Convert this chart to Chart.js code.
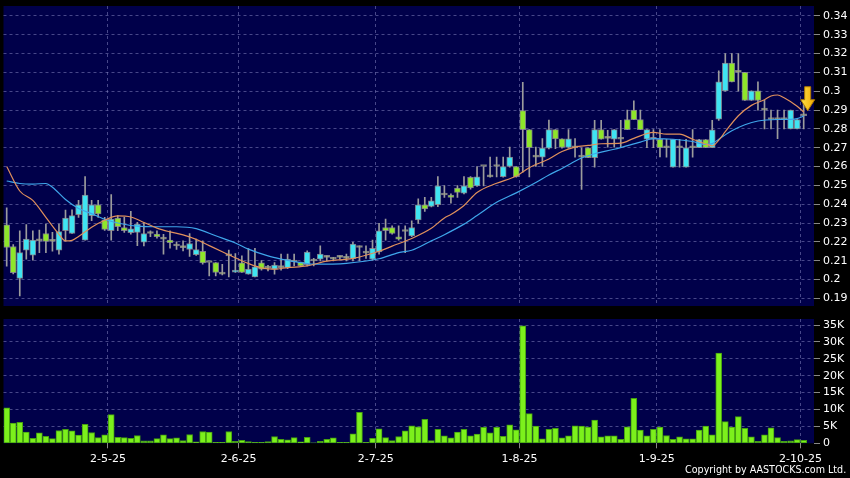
<!DOCTYPE html>
<html>
<head>
<meta charset="utf-8">
<script src="https://cdn.jsdelivr.net/npm/chart.js@4/dist/chart.umd.min.js"></script>
<style>
  html, body { margin: 0; padding: 0; background: #000; }
  #wrap { position: relative; width: 850px; height: 478px; overflow: hidden; background: #000; }
  #price { position: absolute; left: 0; top: 0; }
  #vol { position: absolute; left: 0; top: 310px; }
  #copy { position: absolute; right: 4px; top: 463px; color: #fff; font: 11px "DejaVu Sans", sans-serif; white-space: nowrap; transform: scaleX(0.87); transform-origin: right top; }
</style>
</head>
<body>
<div id="wrap">
  <canvas id="price" width="850" height="310"></canvas>
  <canvas id="vol" width="850" height="168"></canvas>
  <div id="copy">Copyright by AASTOCKS.com Ltd.</div>
</div>
<script>
// daily bars, oldest first (bar 1 .. 123)
const open = [
  0.229, 0.2175, 0.2006, 0.2156, 0.2129, 0.2205, 0.2244, 0.2202, 0.2156, 0.2259,
  0.2244, 0.2344, 0.2209, 0.2339, 0.2397, 0.2317, 0.2259, 0.2326, 0.2276, 0.2248,
  0.225, 0.2198, 0.2244, 0.2241, 0.2214, 0.2209, 0.2178, 0.2169, 0.2159, 0.2132,
  0.215, 0.209, 0.209, 0.2028, 0.2125, 0.2039, 0.2088, 0.2028, 0.2014, 0.2088,
  0.206, 0.2054, 0.2063, 0.2063, 0.2093, 0.2093, 0.2079, 0.2098, 0.2108, 0.2117,
  0.2108, 0.2117, 0.2112, 0.211, 0.217, 0.214, 0.2108, 0.2147, 0.2276, 0.2276,
  0.2227, 0.2255, 0.2232, 0.2316, 0.2397, 0.2388, 0.2398, 0.2449, 0.2449, 0.2485,
  0.2458, 0.2543, 0.2497, 0.26, 0.2545, 0.26, 0.2546, 0.26, 0.26, 0.2897,
  0.2796, 0.265, 0.265, 0.2698, 0.2796, 0.2747, 0.2701, 0.27, 0.265, 0.27,
  0.2647, 0.2796, 0.275, 0.2745, 0.2745, 0.2849, 0.29, 0.2849, 0.2745, 0.2745,
  0.2745, 0.27, 0.2596, 0.27, 0.2596, 0.27, 0.27, 0.2743, 0.27, 0.2852,
  0.3002, 0.315, 0.31, 0.31, 0.2951, 0.3002, 0.29, 0.285, 0.285, 0.285,
  0.28, 0.28, 0.287
];
const high = [
  0.238, 0.2185, 0.2259, 0.2291, 0.2259, 0.2262, 0.2294, 0.225, 0.2294, 0.2369,
  0.237, 0.242, 0.2547, 0.242, 0.242, 0.233, 0.2451, 0.2339, 0.233, 0.2362,
  0.2303, 0.2302, 0.2259, 0.2259, 0.224, 0.2258, 0.22, 0.2205, 0.2244, 0.2214,
  0.2205, 0.209, 0.209, 0.208, 0.2156, 0.2137, 0.2125, 0.2164, 0.2166, 0.21,
  0.2075, 0.209, 0.2135, 0.2135, 0.2135, 0.2093, 0.2152, 0.2112, 0.2179, 0.2125,
  0.2117, 0.2126, 0.2135, 0.2197, 0.2179, 0.2179, 0.2209, 0.2298, 0.2321, 0.2285,
  0.2285, 0.2285, 0.2312, 0.2428, 0.2436, 0.2436, 0.2547, 0.2499, 0.2455, 0.2499,
  0.2547, 0.2547, 0.26, 0.26, 0.265, 0.265, 0.265, 0.2703, 0.26, 0.3048,
  0.2796, 0.2703, 0.2748, 0.2847, 0.2796, 0.2747, 0.2796, 0.2748, 0.27, 0.27,
  0.2845, 0.2845, 0.2792, 0.2796, 0.2845, 0.29, 0.2949, 0.29, 0.2796, 0.2796,
  0.2796, 0.2745, 0.2745, 0.2745, 0.2745, 0.2796, 0.2745, 0.2743, 0.2845, 0.3109,
  0.32, 0.32, 0.32, 0.31, 0.3002, 0.305, 0.2952, 0.29, 0.29, 0.29,
  0.29, 0.285, 0.2952
];
const low = [
  0.207, 0.203, 0.1912, 0.2108, 0.2102, 0.2143, 0.2143, 0.215, 0.2134, 0.2205,
  0.2244, 0.233, 0.2209, 0.2312, 0.233, 0.226, 0.2209, 0.2259, 0.225, 0.2241,
  0.2179, 0.2178, 0.2227, 0.222, 0.2134, 0.2166, 0.2159, 0.2152, 0.2123, 0.2128,
  0.2081, 0.2019, 0.2019, 0.2024, 0.2014, 0.2037, 0.2037, 0.2028, 0.2013, 0.205,
  0.2045, 0.2028, 0.205, 0.2058, 0.2072, 0.2072, 0.2072, 0.2072, 0.2098, 0.2098,
  0.2098, 0.2108, 0.2098, 0.2098, 0.2098, 0.2112, 0.2103, 0.2135, 0.2209, 0.2241,
  0.2209, 0.2143, 0.2227, 0.2298, 0.2362, 0.2385, 0.2387, 0.2436, 0.2406, 0.2436,
  0.2455, 0.248, 0.2495, 0.2497, 0.2543, 0.2545, 0.2543, 0.2597, 0.2543, 0.257,
  0.2545, 0.26, 0.26, 0.2694, 0.2695, 0.2698, 0.2698, 0.265, 0.2478, 0.2647,
  0.2596, 0.2745, 0.2703, 0.2703, 0.2703, 0.2796, 0.2849, 0.2796, 0.27, 0.27,
  0.2651, 0.265, 0.2596, 0.2596, 0.2596, 0.265, 0.27, 0.27, 0.27, 0.2845,
  0.3, 0.3049, 0.3, 0.2951, 0.2951, 0.29, 0.28, 0.28, 0.2748, 0.28,
  0.28, 0.28, 0.28
];
const close = [
  0.217, 0.2036, 0.2143, 0.2214, 0.2209, 0.2205, 0.2202, 0.2202, 0.2255, 0.2326,
  0.2339, 0.2396, 0.2449, 0.2397, 0.2348, 0.2266, 0.2321, 0.228, 0.2259, 0.2269,
  0.2294, 0.2244, 0.2244, 0.2227, 0.2214, 0.2195, 0.2178, 0.2169, 0.2191, 0.2159,
  0.2088, 0.209, 0.2037, 0.2028, 0.2125, 0.205, 0.2037, 0.2055, 0.2067, 0.2055,
  0.206, 0.2076, 0.2063, 0.2108, 0.2093, 0.2072, 0.2145, 0.2098, 0.2135, 0.2117,
  0.2108, 0.2117, 0.2112, 0.2188, 0.217, 0.214, 0.2166, 0.2259, 0.2259, 0.2244,
  0.2214, 0.2255, 0.2276, 0.2397, 0.2375, 0.2418, 0.2497, 0.2449, 0.2436, 0.2463,
  0.2497, 0.2486, 0.2545, 0.26, 0.2545, 0.26, 0.26, 0.265, 0.2546, 0.2796,
  0.27, 0.265, 0.2698, 0.2796, 0.2747, 0.2701, 0.2747, 0.27, 0.265, 0.2647,
  0.2796, 0.2745, 0.275, 0.2796, 0.2745, 0.2796, 0.2849, 0.2796, 0.2796, 0.2745,
  0.27, 0.27, 0.2745, 0.27, 0.27, 0.27, 0.2743, 0.27, 0.2795, 0.305,
  0.315, 0.3049, 0.31, 0.2951, 0.3002, 0.2951, 0.29, 0.285, 0.285, 0.285,
  0.29, 0.2849, 0.287
];
// volume in shares
const volume = [
  10500, 6000, 6200, 3300, 1500, 3100, 2100, 1400, 3800, 4100,
  3700, 2400, 5600, 3200, 1700, 2500, 8500, 1800, 1700, 1500,
  2300, 700, 700, 1400, 2500, 1400, 1600, 800, 2600, 400,
  3500, 3300, 300, 300, 3500, 600, 900, 500, 300, 300,
  500, 2000, 1200, 1000, 1700, 400, 1800, 100, 600, 1200,
  1600, 300, 300, 2800, 9200, 300, 1500, 4300, 1700, 800,
  2000, 3700, 5200, 4900, 7100, 800, 4100, 2200, 1600, 3300,
  4100, 2200, 2700, 4700, 3100, 4700, 2100, 5500, 4000, 34800,
  8800, 5100, 1300, 4100, 4400, 1600, 2200, 5200, 5100, 4800,
  6900, 1900, 2200, 2200, 1200, 4900, 13300, 3900, 2200, 4100,
  4800, 2300, 1200, 1900, 1300, 1300, 3900, 5100, 2500, 26700,
  6400, 4800, 7900, 4400, 1900, 600, 2500, 4600, 1700, 600,
  700, 1100, 900
];
// moving averages: [bar, value]
const maFast = [
  [1, 0.2600], [3, 0.2470], [5, 0.2420], [7, 0.2330], [9, 0.2240], [10, 0.2205],
  [11, 0.2208], [12, 0.2228], [14, 0.2278], [16, 0.2315], [18, 0.2338], [20, 0.2332],
  [22, 0.2303], [24, 0.2273], [26, 0.2253], [28, 0.2237], [30, 0.2213], [32, 0.2180],
  [34, 0.2147], [36, 0.2115], [38, 0.2085], [40, 0.2062], [42, 0.2055], [44, 0.2063],
  [47, 0.2072], [50, 0.2097], [54, 0.2112], [58, 0.2150], [60, 0.2177], [63, 0.2218],
  [66, 0.2272], [68, 0.2327], [69, 0.2345], [71, 0.2393], [73, 0.2462], [76, 0.2511],
  [79, 0.2550], [81, 0.2594], [84, 0.2640], [86, 0.2680], [88, 0.2703], [90, 0.2712],
  [92, 0.2721], [95, 0.2724], [97, 0.2750], [100, 0.2782], [102, 0.2772], [104, 0.2772],
  [106, 0.2745], [108, 0.2720], [109, 0.2710], [110, 0.2740], [111, 0.2785], [113, 0.2870],
  [115, 0.2925], [117, 0.2955], [118, 0.2975], [119, 0.2980], [120, 0.2965], [122, 0.2920],
  [123, 0.2890]
];
const maSlow = [
  [1, 0.2523], [3, 0.2510], [5, 0.2507], [7, 0.2510], [8, 0.2490], [10, 0.2425],
  [12, 0.2377], [14, 0.2350], [16, 0.2320], [18, 0.2300], [21, 0.2283], [24, 0.2280],
  [27, 0.2280], [30, 0.2270], [33, 0.2232], [36, 0.2194], [38, 0.2161], [41, 0.2125],
  [43, 0.2108], [45, 0.2095], [48, 0.2081], [53, 0.2086], [58, 0.2110], [61, 0.2143],
  [63, 0.2155], [66, 0.2205], [68, 0.2238], [71, 0.2294], [73, 0.2340], [76, 0.2410],
  [79, 0.2460], [82, 0.2515], [84, 0.2555], [86, 0.2590], [89, 0.2645], [91, 0.2668],
  [94, 0.2692], [98, 0.2730], [100, 0.2748], [103, 0.2745], [106, 0.2733], [108, 0.2718],
  [109, 0.2722], [110, 0.2745], [112, 0.2790], [114, 0.2822], [116, 0.2842], [119, 0.2850],
  [121, 0.2851], [122, 0.2855], [123, 0.2868]
];
const priceTicks = [0.19, 0.20, 0.21, 0.22, 0.23, 0.24, 0.25, 0.26, 0.27, 0.28, 0.29, 0.30, 0.31, 0.32, 0.33, 0.34];
const volTicks = [0, 5000, 10000, 15000, 20000, 25000, 30000, 35000];
const tickAt = [16.5, 36.5, 57.5, 79.5, 100.5, 122.5];
const tickLabels = ['2-5-25', '2-6-25', '2-7-25', '1-8-25', '1-9-25', '2-10-25'];

Chart.defaults.font.family = '"DejaVu Sans", sans-serif';
Chart.defaults.font.size = 11;
Chart.defaults.color = '#fff';

const navy = '#00004a';
const gridCol = 'rgba(130,130,190,0.55)';
const upCol = '#3fe4f2';
const downCol = '#8ee62a';
const flatCol = '#a8ae74';

const panelBg = {
  id: 'panelBg',
  beforeDraw(chart) {
    const { ctx, chartArea: a } = chart;
    ctx.save();
    ctx.fillStyle = navy;
    ctx.fillRect(a.left, a.top, a.right - a.left, a.bottom - a.top);
    ctx.restore();
  }
};

// yellow marker over the latest bar
const arrowMark = {
  id: 'arrowMark',
  afterDatasetsDraw(chart) {
    const { ctx, scales: { x, y } } = chart;
    const n = close.length;
    const cx = x.getPixelForValue(n) + 4;
    const tip = y.getPixelForValue(close[n - 1]) - 5;
    ctx.save();
    const g = ctx.createLinearGradient(cx - 7, 0, cx + 7, 0);
    g.addColorStop(0, '#ffe24a');
    g.addColorStop(1, '#f0a800');
    ctx.fillStyle = g;
    ctx.strokeStyle = '#b07a00';
    ctx.lineWidth = 1;
    ctx.beginPath();
    ctx.moveTo(cx - 3, tip - 24);
    ctx.lineTo(cx + 3, tip - 24);
    ctx.lineTo(cx + 3, tip - 11);
    ctx.lineTo(cx + 7, tip - 11);
    ctx.lineTo(cx, tip);
    ctx.lineTo(cx - 7, tip - 11);
    ctx.lineTo(cx - 3, tip - 11);
    ctx.closePath();
    ctx.fill();
    ctx.stroke();
    ctx.restore();
  }
};

const xRange = { min: 0.51, max: 124.58 };

function xAxis(showLabels) {
  return {
    type: 'linear',
    min: xRange.min,
    max: xRange.max,
    offset: false,
    afterBuildTicks: s => { s.ticks = tickAt.map(v => ({ value: v })); },
    afterFit: s => { s.height = showLabels ? 34.7 : 0; s.paddingLeft = 0; s.paddingRight = 0; },
    grid: { offset: false, color: gridCol, drawTicks: showLabels, tickLength: 5, tickColor: '#888' },
    border: { display: false, dash: [3, 3] },
    ticks: {
      display: showLabels,
      padding: 4,
      maxRotation: 0,
      autoSkip: false,
      callback: v => tickLabels[tickAt.indexOf(v)] || ''
    }
  };
}

function rightAxis(extra) {
  return Object.assign({
    position: 'right',
    afterFit: s => { s.width = 36; s.paddingTop = 0; s.paddingBottom = 0; },
    border: { display: false, dash: [3, 3] }
  }, extra);
}

new Chart(document.getElementById('price'), {
  type: 'bar',
  data: {
    datasets: [
      {
        type: 'line', label: 'MA fast', order: 0,
        data: maFast.map(([x, y]) => ({ x, y })),
        borderColor: '#e0905c', borderWidth: 1.2, pointRadius: 0,
        cubicInterpolationMode: 'monotone'
      },
      {
        type: 'line', label: 'MA slow', order: 0,
        data: maSlow.map(([x, y]) => ({ x, y })),
        borderColor: '#3fa6ea', borderWidth: 1.2, pointRadius: 0,
        cubicInterpolationMode: 'monotone'
      },
      {
        label: 'body', order: 1, grouped: false,
        data: open.map((o, i) => ({ x: i + 1, y: [Math.min(o, close[i]), Math.max(o, close[i])] })),
        backgroundColor: c => {
          const i = c.dataIndex;
          if (close[i] > open[i]) return upCol;
          if (close[i] < open[i]) return downCol;
          return flatCol;
        },
        borderColor: 'rgba(150,150,150,0.8)', borderWidth: 1, borderSkipped: false,
        barThickness: 6, minBarLength: 2
      },
      {
        label: 'wick', order: 2, grouped: false,
        data: low.map((l, i) => ({ x: i + 1, y: [l, high[i]] })),
        backgroundColor: '#9c9c9c', barThickness: 1
      }
    ]
  },
  options: {
    responsive: false,
    animation: false,
    layout: { padding: { left: 3.5, top: 6, bottom: 4, right: 0 } },
    plugins: { legend: { display: false }, tooltip: { enabled: false } },
    scales: {
      x: xAxis(false),
      y: rightAxis({
        min: 0.1859,
        max: 0.3453,
        afterBuildTicks: s => { s.ticks = priceTicks.map(v => ({ value: v })); },
        grid: { color: gridCol, tickLength: 6, tickColor: '#888' },
        ticks: { padding: 3, callback: v => String(+v.toFixed(2)) }
      })
    }
  },
  plugins: [panelBg, arrowMark]
});

new Chart(document.getElementById('vol'), {
  type: 'bar',
  data: {
    datasets: [{
      label: 'volume',
      data: volume.map((v, i) => ({ x: i + 1, y: v })),
      backgroundColor: '#7cf01c',
      borderColor: '#45a010',
      borderWidth: 1,
      borderSkipped: false,
      barThickness: 6
    }]
  },
  options: {
    responsive: false,
    animation: false,
    layout: { padding: { left: 3.5, top: 9, bottom: 0, right: 0 } },
    plugins: { legend: { display: false }, tooltip: { enabled: false } },
    scales: {
      x: xAxis(true),
      y: rightAxis({
        min: 0,
        max: 36800,
        afterBuildTicks: s => { s.ticks = volTicks.map(v => ({ value: v })); },
        grid: { color: c => c.tick && c.tick.value === 0 ? 'rgba(0,0,0,0)' : gridCol, tickLength: 6, tickColor: '#888' },
        ticks: { padding: 3, callback: v => v === 0 ? '0' : (v / 1000) + 'K' }
      })
    }
  },
  plugins: [panelBg]
});
</script>
</body>
</html>
